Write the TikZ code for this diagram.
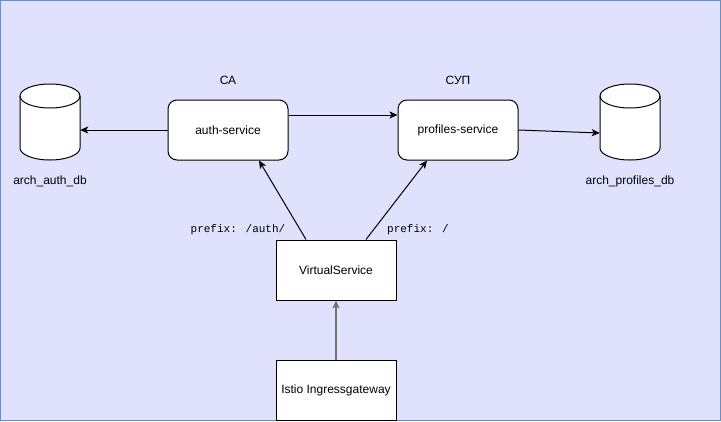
\documentclass[tikz,border=0pt]{standalone}
\usepackage{fontspec}
\setmainfont{Liberation Sans}
\newfontfamily\monof{Liberation Mono}
\usetikzlibrary{arrows.meta}
\definecolor{bgcol}{HTML}{E0E1FD}
\definecolor{framecol}{HTML}{6C8EBF}
\begin{document}
\begin{tikzpicture}[x=1pt,y=-1pt,
  txt/.style={font=\fontsize{12}{14}\selectfont, inner sep=0pt},
  mono/.style={font=\monof\fontsize{11}{13}\selectfont, inner sep=0pt},
  svc/.style={draw=black, fill=white, line width=1pt, rounded corners=9pt, minimum width=120pt, minimum height=60pt, inner sep=0pt, font=\fontsize{12}{14}\selectfont},
  box/.style={draw=black, fill=white, line width=1pt, minimum width=120pt, minimum height=60pt, inner sep=0pt, font=\fontsize{12}{14}\selectfont},
  cylspot/.style={minimum width=60pt, minimum height=76pt, inner sep=0pt},
  cyl/.style={draw=black, fill=white, line width=1pt},
  arr/.style={draw=black, line width=1pt, -{Stealth[length=8pt,width=7pt,inset=2pt]}},
  grayarr/.style={draw=black!55, line width=1.6pt, -{Stealth[length=8pt,width=7pt,inset=2pt]}}
]
\useasboundingbox (0,0) rectangle (721,421);
\draw[draw=framecol, fill=bgcol, line width=1pt] (0.5,0.5) rectangle (720.5,420.5);

% cylinders
\node[cylspot] (adb) at (50,122) {};
\node[cylspot] (pdb) at (630,122) {};
\foreach \cx in {20,600}{
  \draw[cyl] (\cx,96) -- (\cx,148) arc[start angle=180, end angle=0, x radius=30, y radius=12]
    -- (\cx+60,96) arc[start angle=0, end angle=-180, x radius=30, y radius=12] -- cycle;
  \draw[cyl, fill=none] (\cx,96) arc[start angle=180, end angle=0, x radius=30, y radius=12];
}
\node[txt] (adbl) at (50,181) {arch\_auth\_db};
\node[txt] (pdbl) at (630,181) {arch\_profiles\_db};

% services
\node[svc] (auth) at (228,130) {auth-service};
\node[svc] (prof) at (458,130) {profiles-service};
\node[txt] (cal) at (228,80) {СА};
\node[txt] (supl) at (458,80) {СУП};

\node[box] (vs) at (336,270) {VirtualService};
\node[box] (istio) at (336,390) {Istio Ingressgateway};

\node[mono] (pauth) at (238,230) {prefix: /auth/};
\node[mono] (proot) at (418,230) {prefix: /};

% connectors
\draw[arr] (auth.west) -- (auth.west -| adb.east);
\draw[arr] ([yshift=15pt]auth.east) -- ([yshift=15pt]prof.west);
\draw[arr] (prof.east) -- ([yshift=-11pt]pdb.west);
\draw[arr] ([xshift=-30pt]vs.north) -- ([xshift=31pt]auth.south);
\draw[arr] ([xshift=30pt]vs.north) -- ([xshift=-31pt]prof.south);
\draw[grayarr] (istio.north) -- (vs.south);
\end{tikzpicture}
\end{document}
